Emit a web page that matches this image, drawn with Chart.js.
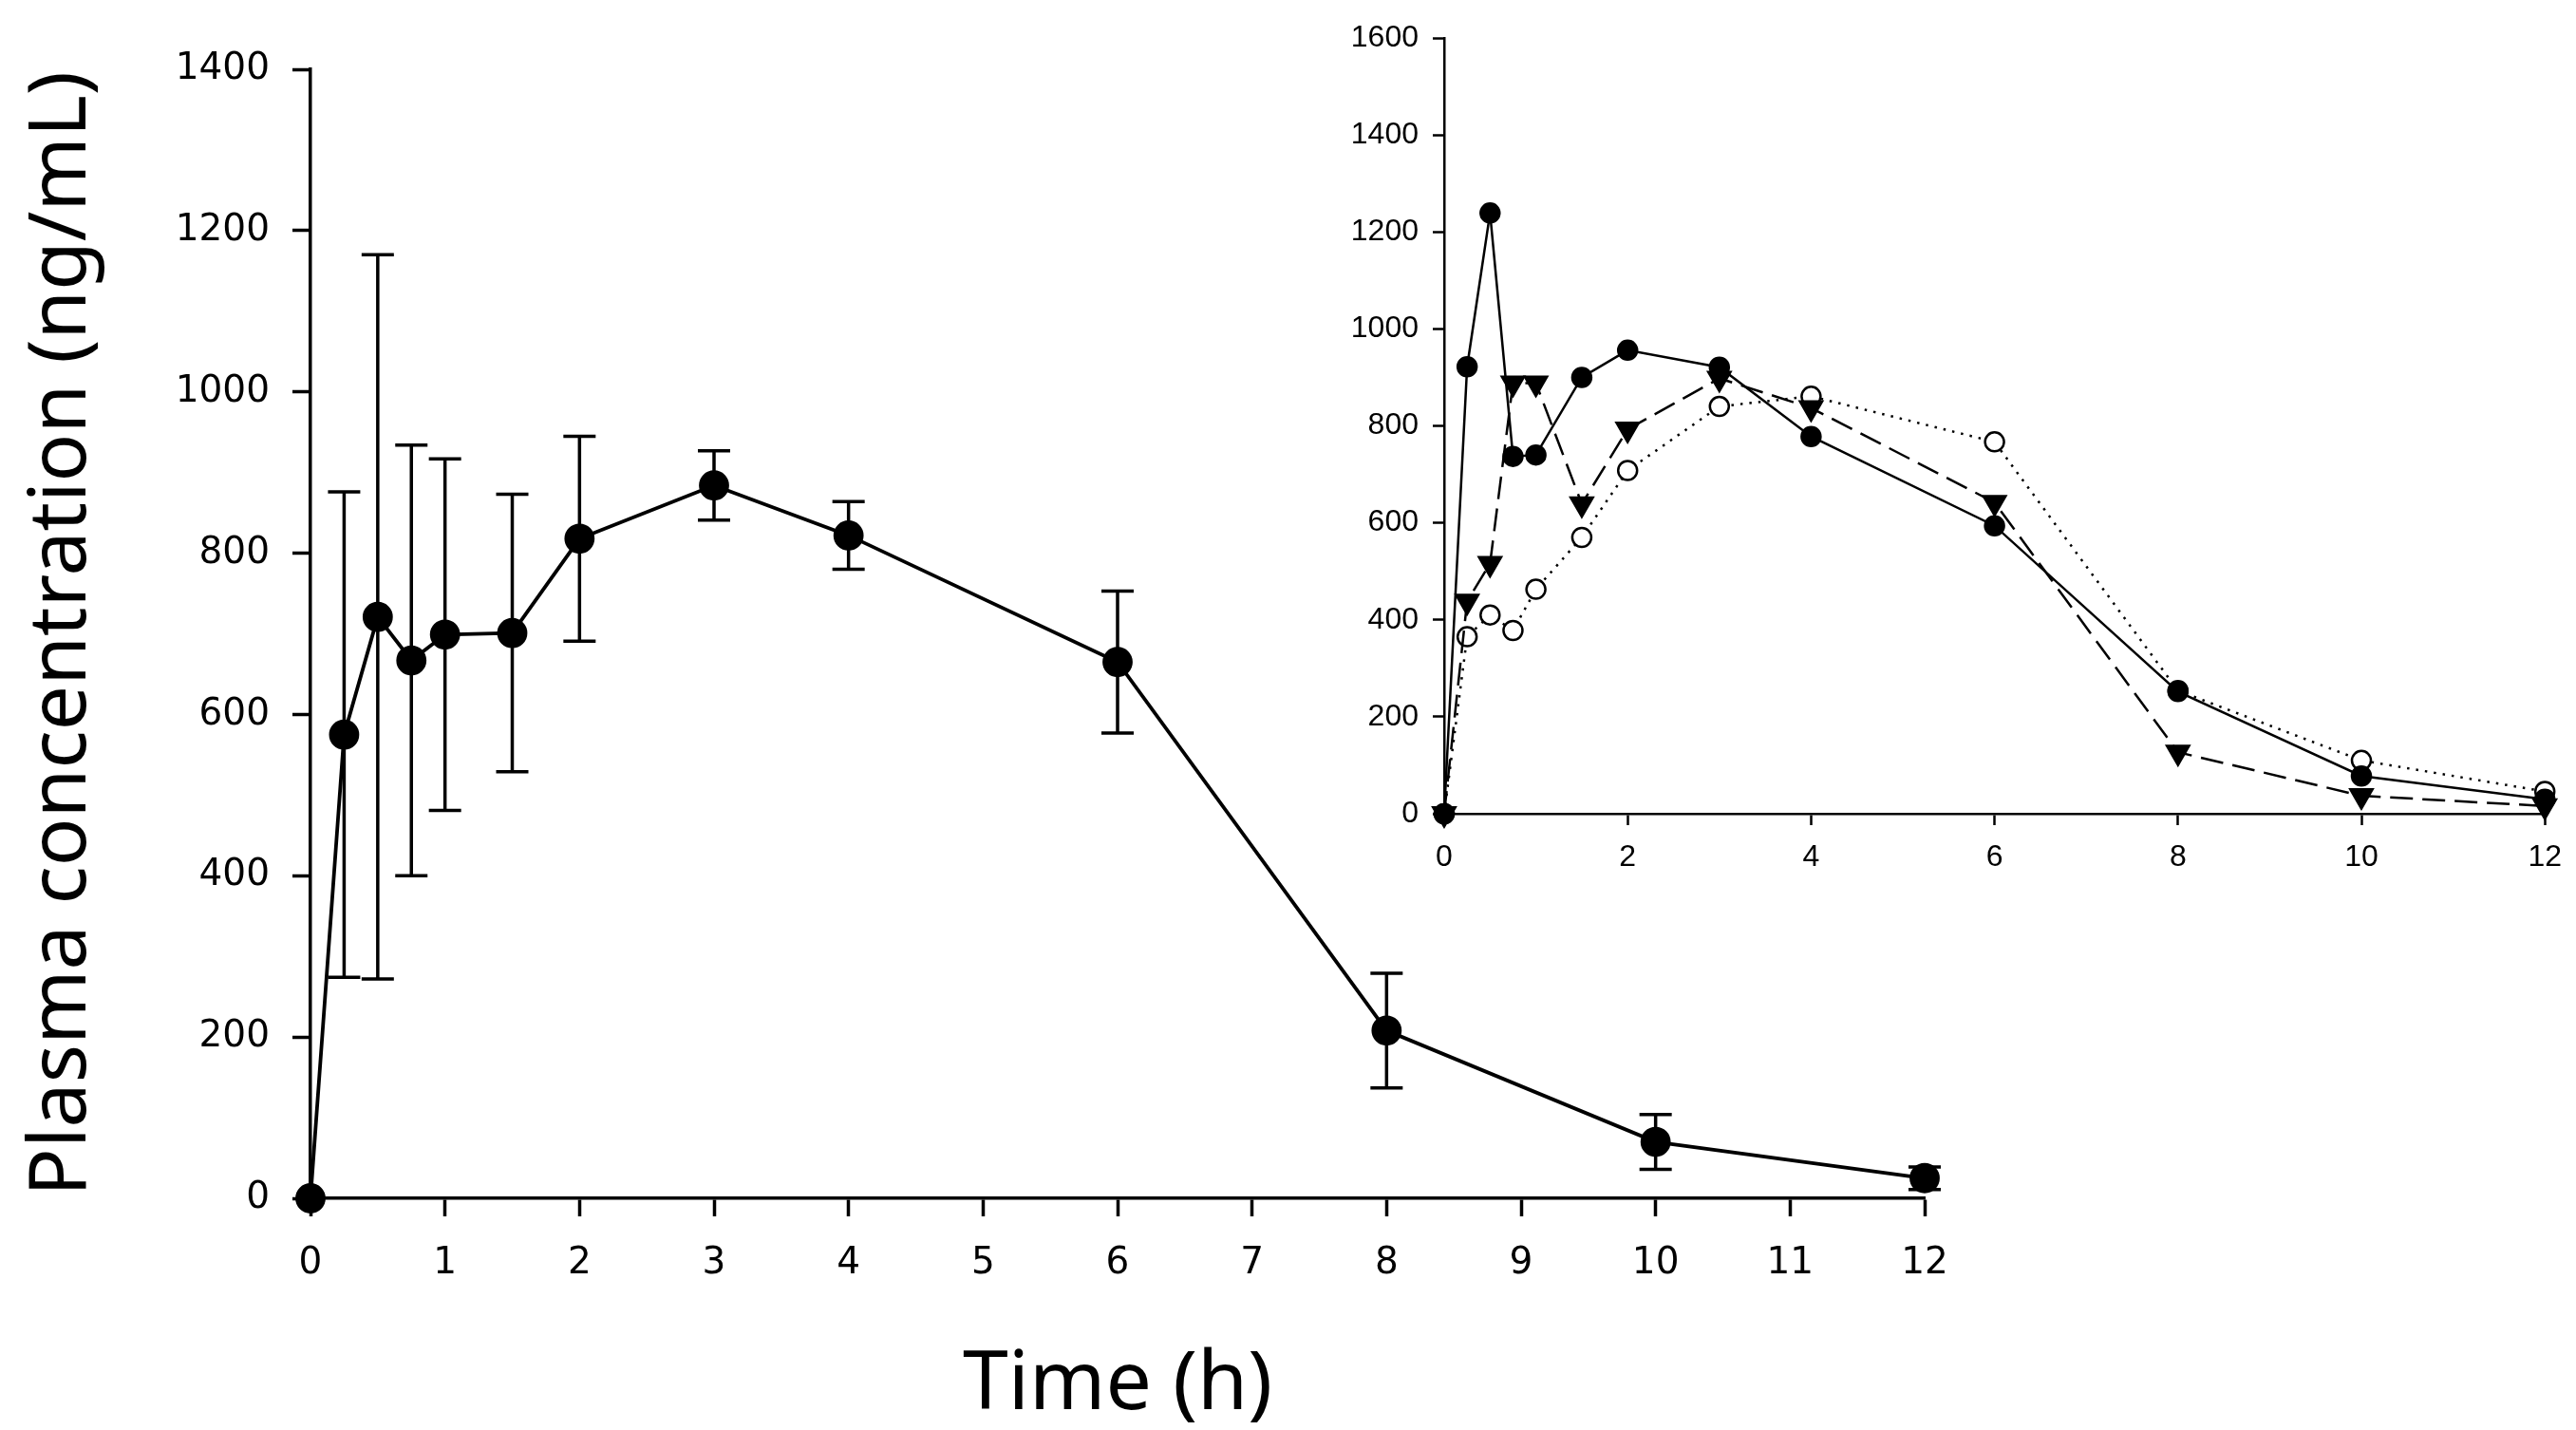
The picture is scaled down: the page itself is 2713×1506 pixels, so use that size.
<!DOCTYPE html>
<html>
<head>
<meta charset="utf-8">
<script src="https://cdn.jsdelivr.net/npm/chart.js@4"></script>
<style>
  html, body { margin: 0; padding: 0; background: #fff; }
  #wrap { position: relative; width: 2713px; height: 1506px; }
  #mainChart { position: absolute; left: 0; top: 0; }
  #insetChart { position: absolute; left: 1380px; top: 0; }
</style>
</head>
<body>
<div id="wrap">
  <canvas id="mainChart" width="2713" height="1506"></canvas>
  <canvas id="insetChart" width="1333" height="960"></canvas>
</div>
<script>
// sampling times (h)
const times = [0, 0.25, 0.5, 0.75, 1, 1.5, 2, 3, 4, 6, 8, 10, 12];

// mean plasma concentration and SD (ng/mL)
const meanConc = [0, 575, 721, 667, 699, 701, 818, 884, 822, 665, 208, 70, 25];
const sdConc = [0, 301, 449, 267, 218, 172, 127, 43, 42, 88, 71, 34, 14];

// individual profiles (inset)
const subjectA = [0, 922, 1239, 737, 740, 900, 956, 921, 778, 594, 252, 78, 30];
const subjectB = [0, 438, 516, 888, 888, 639, 793, 898, 837, 642, 127, 37, 16];
const subjectC = [0, 365, 410, 378, 463, 570, 708, 840, 861, 767, 254, 110, 46];

const yTitle = 'Plasma concentration (ng/mL)';
const xTitle = 'Time (h)';

function pts(ys) {
  return times.map((t, i) => ({ x: t, y: ys[i] }));
}
const plain = v => String(v);

// error bars drawn with the chart's own scales
const errorBars = {
  id: 'errorBars',
  beforeDatasetsDraw(chart) {
    const ctx = chart.ctx;
    const xs = chart.scales.x, ys = chart.scales.y;
    ctx.save();
    ctx.strokeStyle = '#000';
    ctx.lineWidth = 3.5;
    times.forEach((t, i) => {
      if (!sdConc[i]) return;
      const x = xs.getPixelForValue(t);
      const top = ys.getPixelForValue(meanConc[i] + sdConc[i]);
      const bot = ys.getPixelForValue(Math.max(meanConc[i] - sdConc[i], 0));
      const cap = 17;
      ctx.beginPath();
      ctx.moveTo(x, top); ctx.lineTo(x, bot);
      ctx.moveTo(x - cap, top); ctx.lineTo(x + cap, top);
      ctx.moveTo(x - cap, bot); ctx.lineTo(x + cap, bot);
      ctx.stroke();
    });
    ctx.restore();
  }
};

new Chart(document.getElementById('mainChart'), {
  type: 'scatter',
  data: {
    datasets: [{
      data: pts(meanConc),
      showLine: true,
      borderColor: '#000',
      borderWidth: 3.8,
      backgroundColor: '#000',
      pointRadius: 14,
      pointHoverRadius: 14,
      pointBackgroundColor: '#000',
      pointBorderColor: '#000',
      clip: false
    }]
  },
  options: {
    responsive: false,
    animation: false,
    devicePixelRatio: 1,
    layout: { padding: { top: 73, right: 686, bottom: 0, left: 0 } },
    plugins: { legend: { display: false }, tooltip: { enabled: false } },
    scales: {
      x: {
        type: 'linear', min: 0, max: 12,
        afterFit(scale) { scale.height = 244; },
        border: { color: '#000', width: 3.5 },
        grid: { drawOnChartArea: false, tickLength: 19, tickWidth: 3.5, tickColor: '#000' },
        ticks: { stepSize: 1, color: '#000', padding: 26, callback: plain,
                 font: { family: 'DejaVu Sans', size: 39 } },
        title: { display: true, text: xTitle, color: '#000', padding: { top: 0, bottom: 4 },
                 font: { family: 'Noto Sans', size: 86, lineHeight: 1.0 } }
      },
      y: {
        min: 0, max: 1400,
        afterFit(scale) { scale.width = 327; },
        border: { color: '#000', width: 3.5 },
        grid: { drawOnChartArea: false, tickLength: 19, tickWidth: 3.5, tickColor: '#000' },
        ticks: { stepSize: 200, color: '#000', padding: 24, callback: plain,
                 font: { family: 'DejaVu Sans', size: 39 } },
        title: { display: true, text: yTitle, color: '#000', padding: { top: 20, bottom: 0 },
                 font: { family: 'Noto Sans', size: 84, lineHeight: 1.1 } }
      }
    }
  },
  plugins: [errorBars]
});

new Chart(document.getElementById('insetChart'), {
  type: 'scatter',
  data: {
    datasets: [
      {
        data: pts(subjectA), showLine: true,
        borderColor: '#000', borderWidth: 2.5,
        pointStyle: 'circle', pointRadius: 10, pointHoverRadius: 10,
        pointBackgroundColor: '#000', pointBorderColor: '#000', clip: false
      },
      {
        data: pts(subjectB), showLine: true,
        borderColor: '#000', borderWidth: 2.5, borderDash: [24, 10],
        pointStyle: 'triangle', rotation: 180, pointRadius: 13.5, pointHoverRadius: 13.5,
        pointBackgroundColor: '#000', pointBorderColor: '#000', clip: false
      },
      {
        data: pts(subjectC), showLine: true,
        borderColor: '#000', borderWidth: 2.5, borderDash: [2.5, 7],
        pointStyle: 'circle', pointRadius: 10, pointHoverRadius: 10, pointBorderWidth: 2.5,
        pointBackgroundColor: '#fff', pointBorderColor: '#000', clip: false
      }
    ]
  },
  options: {
    responsive: false,
    animation: false,
    devicePixelRatio: 1,
    layout: { padding: { top: 40, right: 27, bottom: 0, left: 0 } },
    plugins: { legend: { display: false }, tooltip: { enabled: false } },
    scales: {
      x: {
        type: 'linear', min: 0, max: 12,
        afterFit(scale) { scale.height = 103; },
        border: { color: '#000', width: 2.5 },
        grid: { drawOnChartArea: false, tickLength: 12, tickWidth: 2.5, tickColor: '#000' },
        ticks: { stepSize: 2, color: '#000', padding: 15, callback: plain,
                 font: { family: 'Liberation Sans', size: 32 } }
      },
      y: {
        min: 0, max: 1600,
        afterFit(scale) { scale.width = 141; },
        border: { color: '#000', width: 2.5 },
        grid: { drawOnChartArea: false, tickLength: 12, tickWidth: 2.5, tickColor: '#000' },
        ticks: { stepSize: 200, color: '#000', padding: 15, callback: plain,
                 font: { family: 'Liberation Sans', size: 32 } }
      }
    }
  }
});
</script>
</body>
</html>
